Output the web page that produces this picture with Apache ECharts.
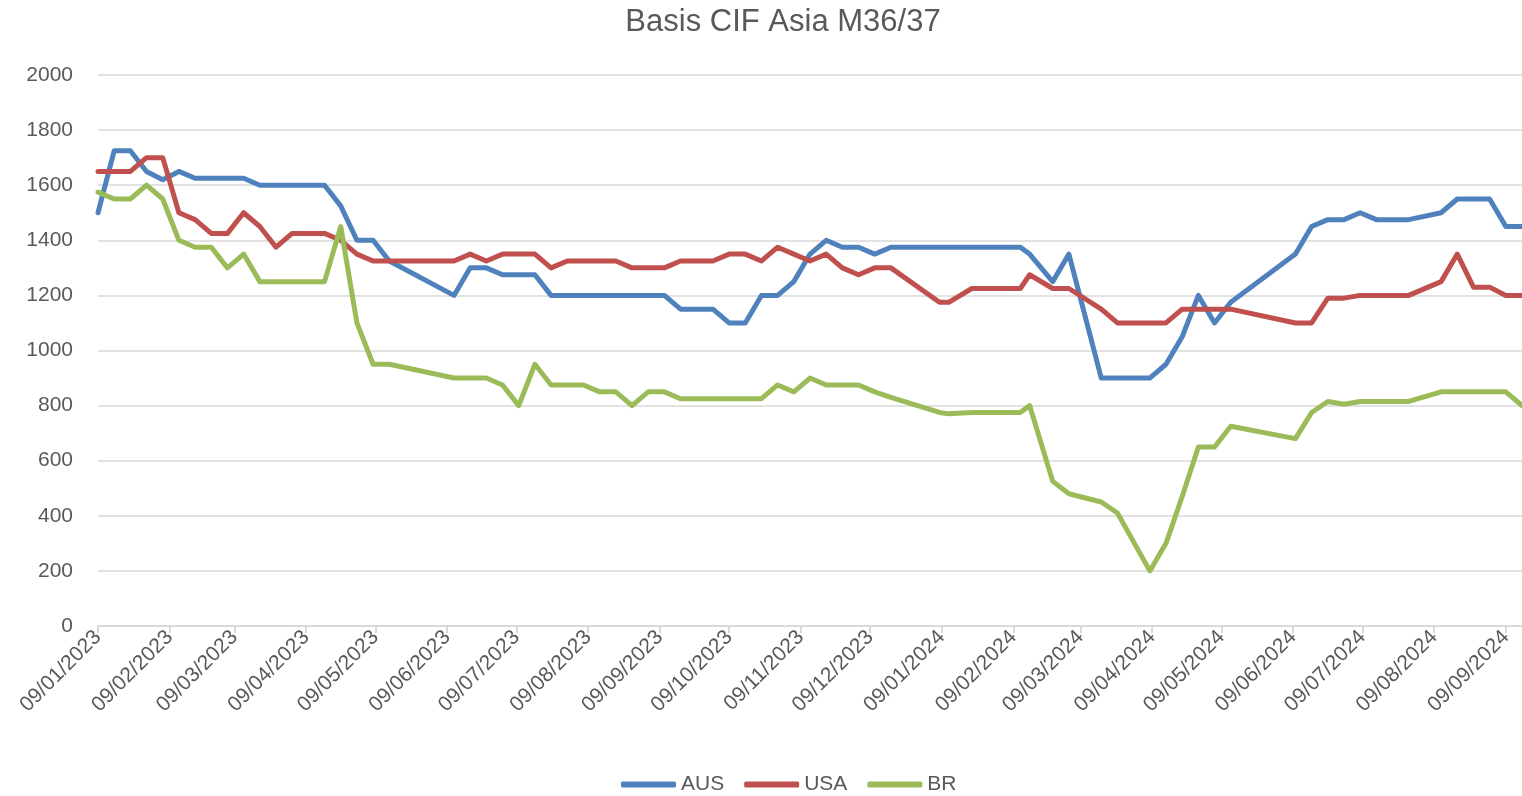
<!DOCTYPE html>
<html>
<head>
<meta charset="utf-8">
<script src="https://cdn.jsdelivr.net/npm/echarts@6/dist/echarts.min.js"></script>
<style>
  html, body { margin: 0; padding: 0; background: #fff; }
  #chart { width: 1522px; height: 796px; }
</style>
</head>
<body>
<div id="chart"></div>
<script>
// ---- data ----
const dates = [
  '2023-01-09','2023-01-16','2023-01-23','2023-01-30','2023-02-06','2023-02-13','2023-02-20','2023-02-27',
  '2023-03-06','2023-03-13','2023-03-20','2023-03-27','2023-04-03','2023-04-10','2023-04-17','2023-04-24',
  '2023-05-01','2023-05-08','2023-05-15','2023-06-12','2023-06-19','2023-06-26','2023-07-03','2023-07-10',
  '2023-07-17','2023-07-24','2023-07-31','2023-08-07','2023-08-14','2023-08-21','2023-08-28','2023-09-04',
  '2023-09-11','2023-09-18','2023-09-25','2023-10-02','2023-10-09','2023-10-16','2023-10-23','2023-10-30',
  '2023-11-06','2023-11-13','2023-11-20','2023-11-27','2023-12-04','2023-12-11','2023-12-18',
  '2024-01-08','2024-01-12','2024-01-22','2024-01-29','2024-02-05','2024-02-12','2024-02-16','2024-02-26',
  '2024-03-04','2024-03-18','2024-03-25','2024-04-08','2024-04-15','2024-04-22','2024-04-29','2024-05-06',
  '2024-05-13','2024-06-10','2024-06-17','2024-06-24','2024-07-01','2024-07-08','2024-07-15','2024-07-22',
  '2024-07-29','2024-08-12','2024-08-19','2024-08-26','2024-09-02','2024-09-09','2024-09-16'
];
const aus = [
  1500,1725,1725,1650,1620,1650,1625,1625,1625,1625,1600,1600,1600,1600,1600,1525,
  1400,1400,1325,1200,1300,1300,1275,1275,1275,1200,1200,1200,1200,1200,1200,1200,
  1200,1150,1150,1150,1100,1100,1200,1200,1250,1350,1400,1375,1375,1350,1375,
  1375,1375,1375,1375,1375,1375,1350,1250,1350,900,900,900,950,1050,1200,1100,
  1175,1350,1450,1475,1475,1500,1475,1475,1475,1500,1550,1550,1550,1450,1450
];
const usa = [
  1650,1650,1650,1700,1700,1500,1475,1425,1425,1500,1450,1375,1425,1425,1425,1400,
  1350,1325,1325,1325,1350,1325,1350,1350,1350,1300,1325,1325,1325,1325,1300,1300,
  1300,1325,1325,1325,1350,1350,1325,1375,1350,1325,1350,1300,1275,1300,1300,
  1175,1175,1225,1225,1225,1225,1275,1225,1225,1150,1100,1100,1100,1150,1150,1150,
  1150,1100,1100,1190,1190,1200,1200,1200,1200,1250,1350,1230,1230,1200,1200
];
const br = [
  1575,1550,1550,1600,1550,1400,1375,1375,1300,1350,1250,1250,1250,1250,1250,1450,
  1100,950,950,900,900,900,875,800,950,875,875,875,850,850,800,850,
  850,825,825,825,825,825,825,875,850,900,875,875,875,850,830,
  775,770,775,775,775,775,800,525,480,450,410,200,300,470,650,650,
  725,680,775,815,805,815,815,815,815,850,850,850,850,850,800
];
const tickDates = [
  '2023-01-09','2023-02-09','2023-03-09','2023-04-09','2023-05-09','2023-06-09','2023-07-09',
  '2023-08-09','2023-09-09','2023-10-09','2023-11-09','2023-12-09','2024-01-09','2024-02-09',
  '2024-03-09','2024-04-09','2024-05-09','2024-06-09','2024-07-09','2024-08-09','2024-09-09'
];
const seriesNames = ['AUS', 'USA', 'BR'];
const titleText = 'Basis CIF Asia M36/37';

// ---- helpers ----
function toTs(s) { const p = s.split('-').map(Number); return new Date(p[0], p[1] - 1, p[2]).getTime(); }
function pad(n) { return (n < 10 ? '0' : '') + n; }
function fmt(v) { const d = new Date(v); return pad(d.getDate()) + '/' + pad(d.getMonth() + 1) + '/' + d.getFullYear(); }
const tickTs = tickDates.map(toTs);
const colors = ['#4F81BD', '#C0504D', '#9BBB59'];
const values = [aus, usa, br];
const FONT = 'Liberation Sans';

const chart = echarts.init(document.getElementById('chart'), null, { renderer: 'canvas' });
chart.setOption({
  animation: false,
  color: colors,
  title: {
    text: titleText, left: 778, textAlign: 'center', top: 2,
    textStyle: { fontFamily: FONT, fontSize: 31, fontWeight: 'normal', color: '#595959' }
  },
  grid: { left: 98, right: 0, top: 75, bottom: 170, containLabel: false },
  legend: {
    top: 769, left: 616, itemWidth: 55, itemHeight: 6, itemGap: 20, icon: 'roundRect',
    data: seriesNames,
    textStyle: { fontFamily: FONT, fontSize: 21, color: '#595959' }
  },
  xAxis: {
    type: 'value',
    min: toTs(dates[0]),
    max: toTs(dates[dates.length - 1]),
    axisLine: { show: true, lineStyle: { color: '#D9D9D9', width: 2 } },
    axisTick: { show: true, customValues: tickTs, length: 7, lineStyle: { color: '#D9D9D9', width: 2 } },
    axisLabel: {
      customValues: tickTs, rotate: 45, margin: 8, formatter: fmt,
      fontFamily: FONT, fontSize: 21, color: '#595959', hideOverlap: false
    },
    splitLine: { show: false }
  },
  yAxis: {
    type: 'value', min: 0, max: 2000, interval: 200,
    axisLine: { show: false }, axisTick: { show: false },
    axisLabel: { fontFamily: FONT, fontSize: 21, color: '#595959', margin: 25, formatter: v => String(v) },
    splitLine: { lineStyle: { color: '#D9D9D9', width: 1.5 } }
  },
  series: seriesNames.map((name, k) => ({
    name, type: 'line', showSymbol: false, symbol: 'none',
    lineStyle: { width: 5, color: colors[k], cap: 'round', join: 'round' },
    data: dates.map((d, i) => [toTs(d), values[k][i]])
  }))
});
</script>
</body>
</html>
